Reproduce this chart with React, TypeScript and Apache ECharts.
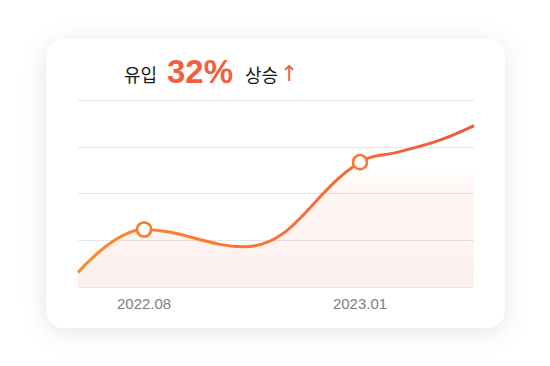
import React, { useEffect, useRef } from "react";
import * as echarts from "echarts";

// x = months relative to 2022.08, y = inflow index
const xValues = [-1.53, 0, 2.31, 5, 5.9, 6.85, 7.64];
const yValues = [0.31, 1.23, 0.86, 2.67, 2.89, 3.14, 3.45];
const markerIdx = [1, 3];
const tickValues = [0, 5];
const tickLabels = ["2022.08", "2023.01"];

export default function App() {
  const ref = useRef<HTMLDivElement>(null);
  useEffect(() => {
    const chart = echarts.init(ref.current!, undefined, { renderer: "svg" });
    const data = xValues.map((x, i) =>
      markerIdx.includes(i)
        ? { value: [x, yValues[i]] }
        : { value: [x, yValues[i]], symbol: "none" }
    );
    chart.setOption({
      animation: false,
      backgroundColor: "#ffffff",
      graphic: [
        {
          type: "rect",
          z: -10,
          shape: { x: 46, y: 39, width: 459, height: 289, r: 18 },
          style: {
            fill: "#ffffff",
            shadowBlur: 24,
            shadowColor: "rgba(0,0,0,0.10)",
            shadowOffsetY: 4,
          },
        },
        {
          type: "text",
          x: 124,
          y: 74,
          style: {
            text: "유입",
            font: "400 18px 'Noto Sans CJK KR'",
            fill: "#1a1a1a",
            verticalAlign: "middle",
          },
        },
        {
          type: "text",
          x: 167,
          y: 71,
          style: {
            text: "32%",
            font: "bold 33px 'Liberation Sans'",
            fill: "#f2603f",
            verticalAlign: "middle",
          },
        },
        {
          type: "text",
          x: 245,
          y: 74,
          style: {
            text: "상승",
            font: "400 18px 'Noto Sans CJK KR'",
            fill: "#1a1a1a",
            verticalAlign: "middle",
          },
        },
        {
          type: "text",
          x: 280,
          y: 73,
          style: {
            text: "↑",
            font: "22px 'DejaVu Sans'",
            fill: "#f2603f",
            verticalAlign: "middle",
          },
        },
      ],
      grid: { left: 78, right: 76, top: 100, bottom: 79 },
      xAxis: {
        type: "value",
        min: -1.53,
        max: 7.64,
        axisLine: { show: false },
        axisTick: { show: false },
        splitLine: { show: false },
        axisLabel: {
          customValues: tickValues,
          formatter: (v: number) => tickLabels[tickValues.indexOf(v)] ?? "",
          color: "#808080",
          fontSize: 15,
          fontFamily: "Liberation Sans",
          margin: 9,
        },
      },
      yAxis: {
        type: "value",
        min: 0,
        max: 4,
        interval: 1,
        axisLabel: { show: false },
        axisLine: { show: false },
        axisTick: { show: false },
        splitLine: { lineStyle: { color: "#e6e6e6", width: 1 } },
      },
      series: [
        {
          type: "line",
          data,
          smooth: 0.4,
          symbol: "circle",
          symbolSize: 14,
          itemStyle: { color: "#ffffff", borderColor: "#f77a35", borderWidth: 2.5 },
          lineStyle: {
            width: 3,
            color: new echarts.graphic.LinearGradient(0, 0, 1, 0, [
              { offset: 0, color: "#ff8a2c" },
              { offset: 1, color: "#ee5a3c" },
            ]),
          },
          areaStyle: {
            color: new echarts.graphic.LinearGradient(0, 0, 0, 1, [
              { offset: 0, color: "rgba(240,120,100,0)" },
              { offset: 0.25, color: "rgba(240,120,100,0)" },
              { offset: 0.4, color: "rgba(240,120,100,0.1)" },
              { offset: 1, color: "rgba(240,120,100,0.15)" },
            ]),
          },
        },
      ],
    });
    return () => chart.dispose();
  }, []);
  return (
    <div
      ref={ref}
      style={{ position: "fixed", left: 0, top: 0, width: 550, height: 366 }}
    />
  );
}
